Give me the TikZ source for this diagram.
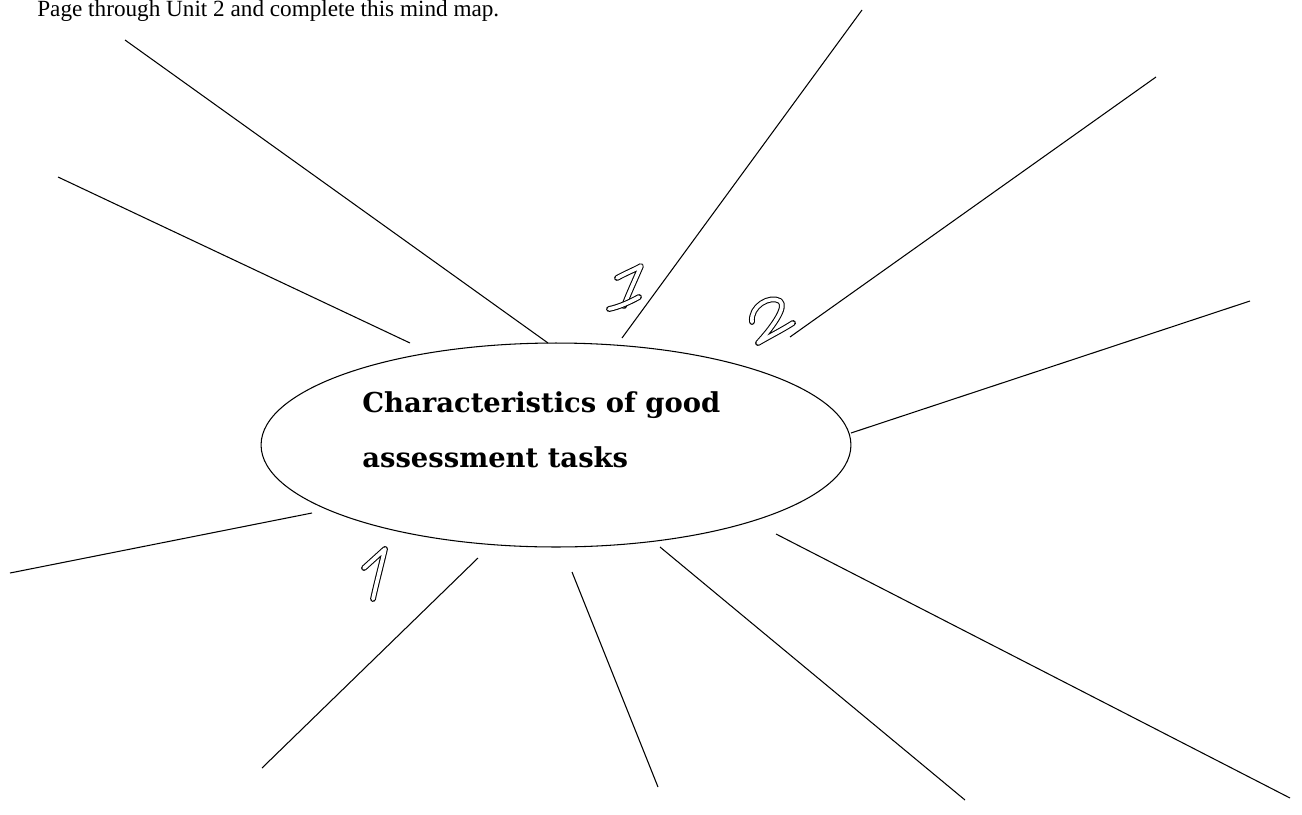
\documentclass[tikz,border=0pt]{standalone}
\usepackage{fontspec}
\setmainfont{Liberation Serif}
\newfontfamily\hubfont{DejaVu Serif}
\usepackage{tikz}
\usetikzlibrary{shapes.geometric}
\tikzset{
  spoke/.style={line width=0.6pt, draw=black},
  digit/.style={line width=0.6pt, double=white, double distance=2.1pt,
                line cap=round, line join=round},
}

\begin{document}
\begin{tikzpicture}[x=0.02cm,y=-0.02cm]
  \useasboundingbox (0,0) rectangle (1302,815);
  %% Instruction line
  \node[anchor=base west,inner sep=0pt,font=\fontsize{13.2}{15}\selectfont] (intro) at (37,16)
    {Page through Unit 2 and complete this mind map.};
  %% Central ellipse
  \node[ellipse,draw,line width=0.6pt,minimum width=11.8cm,minimum height=4.08cm,inner sep=0pt]
    (hub) at (556,445) {};
  \node[anchor=base west,inner sep=0pt,align=left,
        font=\hubfont\bfseries\fontsize{15.6}{31.3}\selectfont] (title) at (362,467)
    {Characteristics of good\\assessment tasks};
  %% Spokes: outer end / end near the ellipse
  \foreach \i/\ax/\ay/\bx/\by in {1/125/40/548/343,
                                  2/58/177/410/343,
                                  3/862/10/622/338,
                                  4/1156/77/790/337,
                                  5/1250/301/851/433,
                                  6/10/573/312/513,
                                  7/262/768/478/558,
                                  8/658/787/572/572,
                                  9/965/800/660/547,
                                  10/1290/798/776/534}{
    \coordinate (tip\i) at (\ax,\ay);
    \coordinate (rim\i) at (\bx,\by);
    \draw[spoke] (tip\i) -- (rim\i);
  }
  %% Hand-written numbers
  \draw[digit] (617,278) .. controls (626,273) and (634,270) .. (641,266)
               .. controls (635,280) and (628,295) .. (624,306);
  \draw[digit] (609,309) .. controls (619,307) and (630,302) .. (639,297);
  \draw[digit] (752,322) .. controls (750,306) and (770,295) .. (780,301)
               .. controls (788,307) and (770,330) .. (758,343)
               .. controls (770,336) and (782,330) .. (793,323);
  \draw[digit] (364,568) -- (385,549)
               .. controls (380,570) and (376,585) .. (373,599);
\end{tikzpicture}
\end{document}
